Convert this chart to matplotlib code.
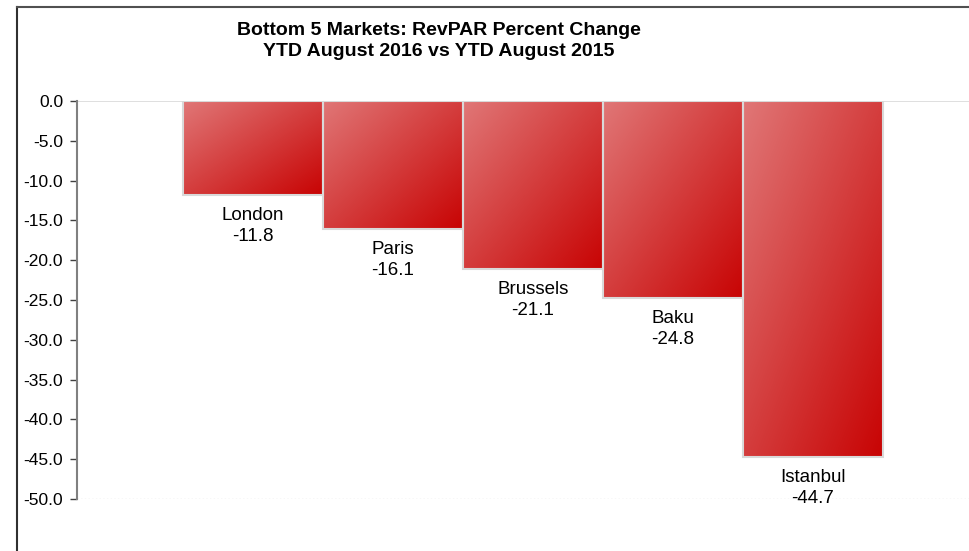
''' bottom 5 markets RevPAR percent change, bars with a red gradient fill '''

import numpy as np
import matplotlib.pyplot as plt
from matplotlib.colors import LinearSegmentedColormap
from matplotlib.patches import Rectangle
from matplotlib.lines import Line2D

plt.rcParams['font.family'] = ['Liberation Sans', 'DejaVu Sans']

markets = ['London', 'Paris', 'Brussels', 'Baku', 'Istanbul']
revpar_change = [-11.8, -16.1, -21.1, -24.8, -44.7]
y_ticks = [0.0, -5.0, -10.0, -15.0, -20.0, -25.0, -30.0, -35.0, -40.0, -45.0, -50.0]

W, H = 969, 551
fig = plt.figure(figsize=(W/100, H/100), dpi=100)
ax = fig.add_axes([77/W, (H-499)/H, (W-77)/W, 398/H])

# light red top-left to dark red bottom-right
red_cmap = LinearSegmentedColormap.from_list('reds', ['#e07676', '#c80404'])
grad = np.add.outer(np.linspace(0, 1, 50), np.linspace(0, 1, 50)) / 2

for i, val in enumerate(revpar_change):
    x0, x1 = i - 0.5, i + 0.5
    ax.imshow(grad, cmap=red_cmap, extent=(x0, x1, val, 0), aspect='auto',
              interpolation='bilinear', zorder=2)
    ax.add_patch(Rectangle((x0, val), 1, -val, fill=False,
                           ec='#d9d9d9', lw=1.5, zorder=3))
    ax.annotate(f'{markets[i]}\n{val:.1f}', (i, val), xytext=(0, -8.5),
                textcoords='offset points', ha='center', va='top',
                fontsize=13.5, linespacing=1.3, zorder=5)

ax.axhline(0, color='#d9d9d9', lw=1.2, zorder=1)
ax.axhline(-50, color='#d9d9d9', lw=1, ls=':', zorder=1)

ax.set_xlim(-1.257, 5.114)
ax.set_ylim(-50, 0)
ax.set_yticks(y_ticks)
ax.set_yticklabels([f'{v:.1f}' for v in y_ticks])
ax.set_xticks([])
ax.tick_params(axis='y', labelsize=12.5, length=5, width=1, color='#404040', pad=5)
for s in ['top', 'right', 'bottom']:
    ax.spines[s].set_visible(False)
ax.spines['left'].set_color('#808080')
ax.spines['left'].set_linewidth(1.5)

fig.text(439/W, 1 - 41/H, 'Bottom 5 Markets: RevPAR Percent Change\nYTD August 2016 vs YTD August 2015',
         ha='center', va='center', fontsize=14, fontweight='bold', linespacing=1.3)

# frame lines at left and top (chart is cut at right and bottom)
fig.add_artist(Line2D([17/W, 17/W], [0, 1 - 7/H], color='#303030', lw=1.5))
fig.add_artist(Line2D([17/W, 1], [1 - 7/H, 1 - 7/H], color='#505050', lw=1.5))

fig.savefig('out.png', dpi=100)
